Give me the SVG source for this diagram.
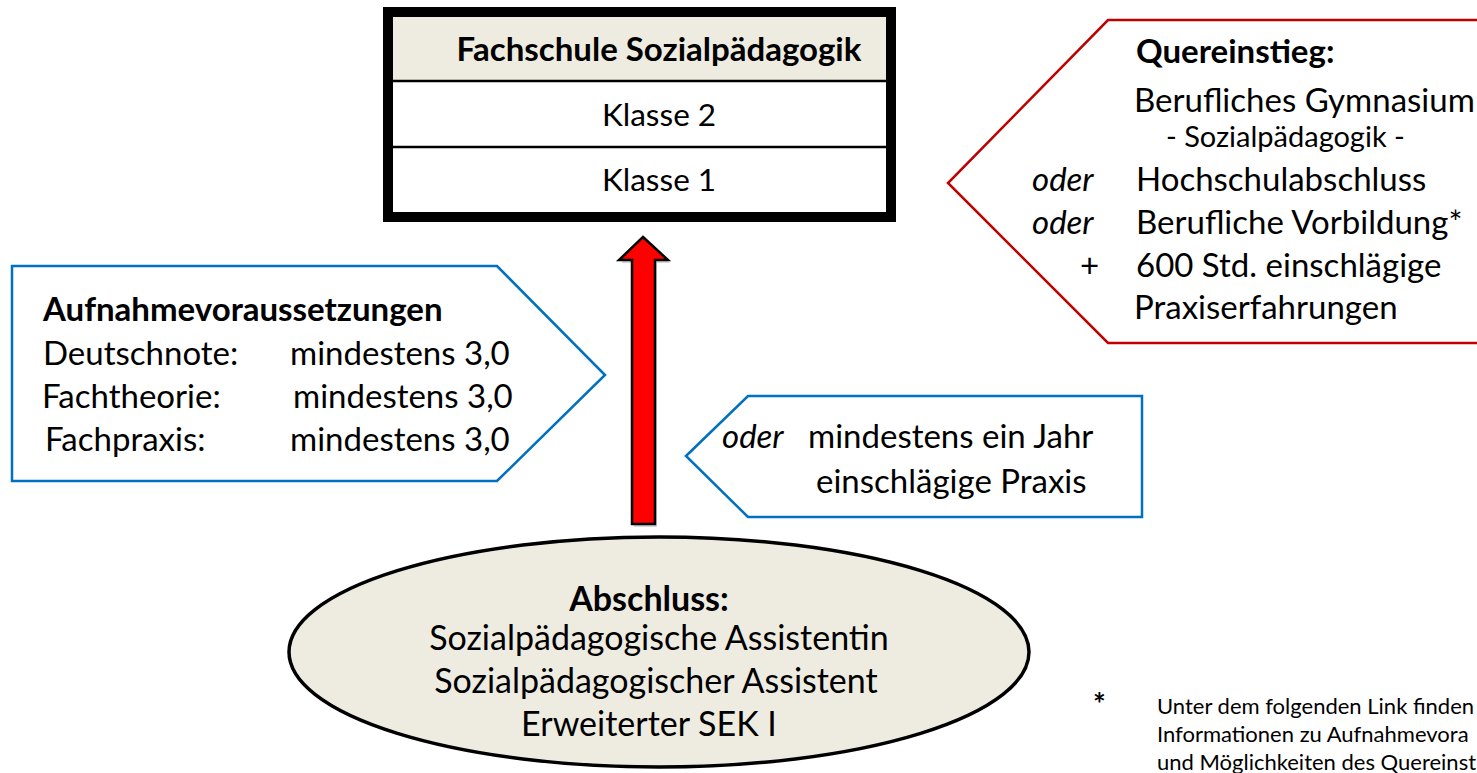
<svg xmlns="http://www.w3.org/2000/svg" width="1477" height="773" viewBox="0 0 1477 773">
<style>
text{font-family:Lato,"Open Sans","Liberation Sans",sans-serif;fill:#000;}
.t{font-size:33px;}
.k{font-size:31.5px;}
.e{font-size:34px;}
.b{font-weight:bold;}
.i{font-style:italic;}
.m{text-anchor:middle;}
.s{font-size:29px;}
.f{font-size:22px;}
.blue{fill:#fff;stroke:#0070C0;stroke-width:2.5;}
.red{fill:#fff;stroke:#C00000;stroke-width:2.5;}
</style>
<rect width="1477" height="773" fill="#fff"/>
<g id="connectors">
<polygon points="645,240 670,263 657,263 657,527 634,527 634,263 621,263" fill="#bbb" opacity="0.6"/>
<polygon points="643,237 668,260 655,260 655,524 632,524 632,260 619,260" fill="#FF0000" stroke="#000" stroke-width="2.5" stroke-linejoin="miter"/>
</g>
<g id="fachschule">
<rect x="393" y="17" width="494" height="64" fill="#EEECE1"/>
<rect x="393" y="81" width="494" height="131" fill="#fff"/>
<line x1="393" y1="81" x2="887" y2="81" stroke="#000" stroke-width="2.5"/>
<line x1="393" y1="147" x2="887" y2="147" stroke="#000" stroke-width="2.5"/>
<rect x="388" y="12" width="503" height="205" fill="none" stroke="#000" stroke-width="10"/>
<text class="t b m" x="659" y="61">Fachschule Sozialpädagogik</text>
<text class="k m" x="659" y="126">Klasse 2</text>
<text class="k m" x="659" y="191">Klasse 1</text>
</g>
<g id="quereinstieg">
<polygon class="red" points="1480,20 1108,20 948,183 1108,343 1480,343"/>
<text class="t b" x="1136" y="63">Quereinstieg:</text>
<text class="t" x="1134" y="112">Berufliches Gymnasium</text>
<text class="s" x="1166" y="147">- Sozialpädagogik -</text>
<text class="t i" x="1032" y="191">oder</text>
<text class="t" x="1136" y="191">Hochschulabschluss</text>
<text class="t i" x="1032" y="234">oder</text>
<text class="t" x="1136" y="234">Berufliche Vorbildung*</text>
<text class="t" x="1080" y="277">+</text>
<text class="t" x="1136" y="277">600 Std. einschlägige</text>
<text class="t" x="1134" y="319">Praxiserfahrungen</text>
</g>
<g id="aufnahme">
<polygon class="blue" points="12,266 497,266 605,375 497,481 12,481"/>
<text class="t b" x="43" y="321">Aufnahmevoraussetzungen</text>
<text class="t" x="43" y="365">Deutschnote:</text>
<text class="t" x="290" y="365">mindestens 3,0</text>
<text class="t" x="42" y="408">Fachtheorie:</text>
<text class="t" x="293" y="408">mindestens 3,0</text>
<text class="t" x="45" y="451">Fachpraxis:</text>
<text class="t" x="290" y="451">mindestens 3,0</text>
</g>
<g id="praxis">
<polygon class="blue" points="686,456 748,396 1142,396 1142,517 748,517"/>
<text class="t i" x="722" y="448">oder</text>
<text class="t" x="808" y="448">mindestens ein Jahr</text>
<text class="t" x="816" y="493">einschlägige Praxis</text>
</g>
<g id="abschluss">
<ellipse cx="659" cy="652" rx="370" ry="115" fill="#EEECE1" stroke="#000" stroke-width="3.5"/>
<text class="e b m" x="649" y="611">Abschluss:</text>
<text class="e m" x="659" y="650">Sozialpädagogische Assistentin</text>
<text class="e m" x="656" y="693">Sozialpädagogischer Assistent</text>
<text class="e m" x="649" y="736">Erweiterter SEK I</text>
</g>
<g id="fussnote">
<text class="b" x="1093" y="715" style="font-size:30px">*</text>
<text class="f" x="1157" y="714">Unter dem folgenden Link finden</text>
<text class="f" x="1157" y="742">Informationen zu Aufnahmevora</text>
<text class="f" x="1157" y="770">und Möglichkeiten des Quereinst</text>
</g>
</svg>
